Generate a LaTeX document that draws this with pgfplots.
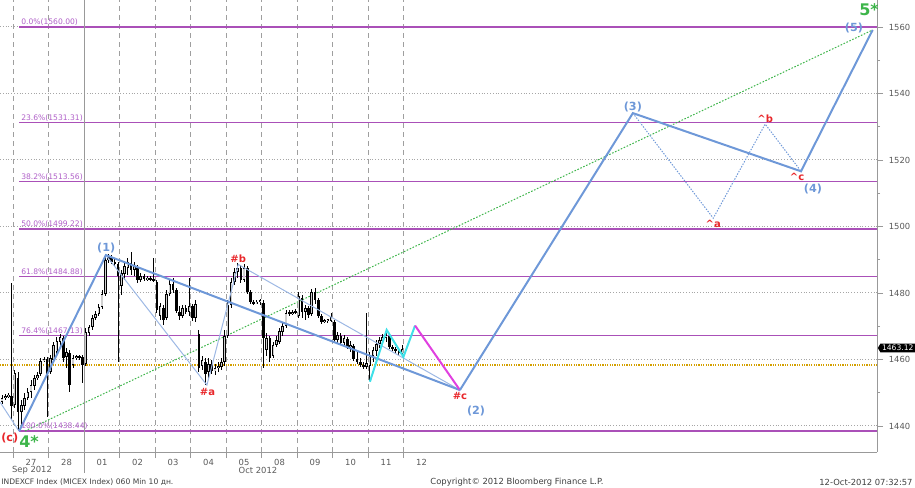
\documentclass[border=0pt]{standalone}
\usepackage{pgfplots}
\pgfplotsset{compat=1.18}
\usepackage{pgfplotstable}
\usepackage{fontspec}
\setmainfont{DejaVu Sans}
\usetikzlibrary{shapes.symbols}

\definecolor{wave}{HTML}{6E98D8}
\definecolor{wavethin}{HTML}{9DB8E4}
\definecolor{ewred}{HTML}{E8262A}
\definecolor{ewgreen}{HTML}{3DB54A}
\definecolor{ewcyan}{HTML}{3FE0E8}
\definecolor{ewmag}{HTML}{E040E0}
\definecolor{fibline}{HTML}{AA50B8}
\definecolor{fibtext}{HTML}{B060C8}
\definecolor{gold}{HTML}{D4A000}
\definecolor{upbody}{HTML}{CFCFCF}

\newcommand\sm{\fontsize{3.8}{4.6}\selectfont}
\newcommand\tk{\fontsize{4.2}{5}\selectfont}

% hourly candles, x = bar number (11 bars a day, 27 Sep = bars 0..10)
\pgfplotstableread{
n o h l c
-4 1447.2 1449.3 1446.6 1448.4
-3 1448.4 1449.6 1447.8 1449.0
-2 1449.0 1449.9 1448.4 1449.3
-1 1449.0 1483.0 1441.8 1446.0
0 1446.3 1456.8 1445.4 1455.9
1 1454.4 1456.2 1438.4 1444.2
2 1444.2 1447.8 1440.3 1446.3
3 1446.0 1449.9 1444.8 1448.4
4 1448.4 1451.4 1447.8 1450.2
5 1450.2 1453.8 1448.4 1452.3
6 1452.0 1455.3 1450.8 1454.4
7 1454.4 1456.2 1453.8 1455.3
8 1455.6 1460.5 1455.0 1459.6
9 1459.6 1460.8 1459.3 1460.2
10 1460.2 1460.8 1442.7 1455.3
11 1456.2 1461.4 1455.6 1460.5
12 1459.9 1465.3 1459.3 1464.4
13 1462.3 1466.8 1461.1 1465.6
14 1465.3 1467.7 1463.5 1466.8
15 1466.5 1467.1 1459.3 1460.5
16 1460.8 1463.5 1457.4 1462.3
17 1462.0 1462.9 1450.2 1452.3
18 1458.4 1461.4 1457.4 1460.5
19 1460.5 1461.4 1459.9 1460.8
20 1460.8 1461.4 1459.9 1460.6
21 1460.8 1461.4 1452.9 1458.4
22 1458.7 1469.5 1458.1 1468.3
23 1468.0 1470.4 1467.1 1469.8
24 1469.8 1473.4 1468.9 1472.5
25 1472.5 1474.6 1471.9 1473.7
26 1473.7 1476.7 1473.1 1475.8
27 1475.8 1480.9 1475.2 1479.7
28 1479.7 1491.1 1479.1 1489.9
29 1489.9 1491.7 1489.0 1490.8
30 1490.8 1491.4 1488.7 1489.3
31 1489.3 1490.2 1488.1 1488.7
32 1488.7 1489.3 1459.3 1485.1
33 1482.1 1486.9 1479.4 1486.0
34 1485.7 1489.3 1483.9 1488.1
35 1487.5 1490.5 1485.4 1489.3
36 1489.0 1492.3 1485.4 1486.9
37 1486.9 1489.3 1485.1 1488.1
38 1487.5 1488.4 1483.0 1483.9
39 1483.9 1486.0 1483.3 1485.1
40 1485.1 1485.7 1483.6 1484.2
41 1484.2 1485.1 1483.6 1484.5
42 1484.5 1485.1 1483.6 1484.2
43 1484.2 1490.5 1483.3 1483.9
44 1483.3 1483.9 1474.0 1474.9
45 1473.1 1477.0 1471.9 1476.1
46 1475.5 1476.4 1470.4 1471.9
47 1472.5 1480.9 1471.9 1479.7
48 1479.7 1483.9 1479.1 1482.7
49 1482.7 1484.5 1480.0 1480.9
50 1480.9 1481.5 1474.0 1474.6
51 1474.3 1476.1 1471.9 1473.1
52 1473.1 1476.4 1472.5 1475.5
53 1475.5 1476.4 1473.7 1474.3
54 1474.3 1484.5 1473.1 1476.1
55 1476.1 1476.7 1471.6 1472.5
56 1472.5 1477.9 1471.3 1476.7
57 1467.7 1468.9 1456.2 1457.4
58 1458.1 1461.1 1456.8 1459.9
59 1459.3 1460.5 1452.3 1455.6
60 1456.2 1460.5 1454.4 1458.7
61 1458.7 1459.9 1455.6 1456.5
62 1456.5 1458.7 1455.3 1457.4
63 1457.4 1459.3 1456.2 1458.1
64 1457.7 1460.5 1456.8 1459.3
65 1459.3 1468.9 1458.1 1467.1
66 1467.1 1477.9 1466.5 1476.4
67 1476.4 1484.5 1475.5 1483.3
68 1483.3 1487.5 1482.4 1486.3
69 1486.3 1489.0 1484.5 1487.5
70 1487.5 1488.4 1483.0 1483.9
71 1483.9 1488.7 1483.3 1487.5
72 1487.5 1488.1 1479.7 1480.3
73 1480.3 1480.9 1476.7 1477.3
74 1477.3 1477.9 1476.4 1477.0
75 1477.0 1477.9 1476.7 1477.3
76 1477.3 1478.2 1476.4 1477.6
77 1477.0 1477.9 1457.4 1466.5
78 1462.9 1468.0 1461.1 1466.5
79 1466.5 1467.1 1459.3 1460.5
80 1461.1 1465.3 1460.5 1464.4
81 1464.4 1467.1 1463.8 1465.9
82 1465.3 1469.5 1464.7 1468.6
83 1468.3 1471.0 1467.1 1470.1
84 1470.1 1474.9 1469.5 1474.0
85 1474.0 1474.9 1473.1 1473.7
86 1473.7 1474.9 1473.4 1474.3
87 1474.3 1475.2 1473.7 1474.0
88 1473.1 1480.3 1472.5 1479.1
89 1478.5 1479.4 1472.5 1474.3
90 1474.3 1476.4 1471.9 1475.5
91 1475.5 1476.1 1472.5 1473.4
92 1473.7 1481.2 1473.1 1480.3
93 1480.3 1481.5 1476.7 1477.9
94 1477.9 1478.5 1472.5 1473.1
95 1473.1 1473.7 1470.7 1471.3
96 1471.3 1472.2 1471.0 1471.6
97 1471.6 1472.2 1471.0 1471.9
98 1471.6 1474.0 1471.3 1472.8
99 1471.3 1471.9 1465.3 1465.9
100 1465.9 1468.3 1464.7 1467.4
101 1467.1 1468.0 1464.4 1465.0
102 1465.0 1467.4 1464.1 1466.5
103 1466.2 1466.8 1463.2 1463.8
104 1463.8 1465.6 1462.3 1464.4
105 1464.1 1464.7 1459.6 1460.2
106 1460.2 1462.3 1458.7 1459.3
107 1459.3 1460.5 1457.7 1458.4
108 1458.4 1459.3 1457.1 1457.7
109 1457.7 1474.0 1457.1 1459.0
110 1458.1 1462.3 1453.5 1461.1
111 1461.1 1463.8 1459.3 1462.9
112 1462.6 1465.9 1461.1 1464.7
113 1464.7 1466.8 1463.5 1465.9
114 1465.6 1467.7 1464.4 1466.8
115 1466.5 1468.6 1465.3 1467.4
116 1467.1 1467.7 1463.2 1463.8
117 1463.8 1464.4 1462.6 1463.2
118 1463.2 1463.8 1462.0 1462.6
119 1462.6 1463.2 1461.4 1462.0
120 1461.7 1464.4 1460.5 1463.12
}\candles

\begin{document}
\begin{tikzpicture}
\path[use as bounding box] (0,-17.5pt) rectangle (457.5pt,226pt);
\begin{axis}[
  at={(0,0)}, anchor=south west,
  scale only axis, width=438.5pt, height=226pt,
  xmin=-4.62, xmax=267.15, ymin=1432.18, ymax=1568.12,
  axis x line=bottom, axis y line=right,
  axis line style={-, draw=gray!80, line width=0.5pt},
  tick align=outside,
  xtick={-0.5,10.5,32.5,43.5,54.5,65.5,76.5,87.5,98.5,109.5,120.5},
  xticklabels={},
  extra x ticks={5,16,27,38,49,60,71,82,93,104,115,126},
  extra x tick labels={27,28,01,02,03,04,05,08,09,10,11,12},
  extra x tick style={grid=none, major tick length=0pt},
  ytick={1440,1460,...,1560},
  minor ytick={1450,1470,...,1550},
  major tick length=3pt, minor tick length=1.5pt,
  tick style={gray!80, line width=0.4pt},
  xmajorgrids, ymajorgrids,
  x grid style={gray!75, dash pattern=on 2.5pt off 2pt, line width=0.4pt},
  y grid style={gray!70, dash pattern=on 0.5pt off 0.9pt, line width=0.5pt},
  ticklabel style={font=\tk, text=black!65},
  /pgf/number format/assume math mode=true,
  /pgf/number format/1000 sep={},
  yticklabel style={/pgf/number format/fixed, xshift=-0.6pt},
  clip=true,
]
% Fibonacci levels from the (c) low
\addplot[fibline, line width=0.7pt] coordinates {(1.3,1560.00) (267.15,1560.00)};
\addplot[fibline, line width=0.7pt] coordinates {(1.3,1531.31) (267.15,1531.31)};
\addplot[fibline, line width=0.7pt] coordinates {(1.3,1513.56) (267.15,1513.56)};
\addplot[fibline, line width=0.7pt] coordinates {(1.3,1499.22) (267.15,1499.22)};
\addplot[fibline, line width=0.7pt] coordinates {(1.3,1484.88) (267.15,1484.88)};
\addplot[fibline, line width=0.7pt] coordinates {(1.3,1467.13) (267.15,1467.13)};
\addplot[fibline, line width=0.7pt] coordinates {(1.3,1438.44) (267.15,1438.44)};
\addplot[gold, line width=0.6pt, dash pattern=on 0.6pt off 0.6pt] coordinates {(-4.62,1458.35) (267.15,1458.35)};
\addplot[ewgreen, line width=0.5pt, dash pattern=on 0.8pt off 0.8pt] coordinates {(3.1,1438.5) (265.8,1559.1)};

% candles: wicks, bodies, light fill for rising bars
\addplot[draw=none, mark=none, forget plot, error bars/.cd, y dir=both, y explicit, error mark=none,
  error bar style={draw=black, line width=0.45pt}]
  table[x=n, y expr={(\thisrow{h}+\thisrow{l})/2}, y error expr={(\thisrow{h}-\thisrow{l})/2}] {\candles};
\addplot[draw=none, mark=none, forget plot, error bars/.cd, y dir=both, y explicit, error mark=none,
  error bar style={draw=black, line width=1.3pt}]
  table[x=n, y expr={(\thisrow{o}+\thisrow{c})/2}, y error expr={max(abs(\thisrow{c}-\thisrow{o})/2,0.3)}] {\candles};
\addplot[draw=none, mark=none, forget plot, error bars/.cd, y dir=both, y explicit, error mark=none,
  error bar style={draw=upbody, line width=0.55pt}]
  table[x=n, y expr={(\thisrow{c}>\thisrow{o}) ? ((\thisrow{o}+\thisrow{c})/2) : nan},
        y error expr={max(abs(\thisrow{c}-\thisrow{o})/2-0.35,0.05)}] {\candles};

% wave count
\addplot[wavethin, line width=0.5pt] coordinates {(-4.62,1447.2) (1.3,1438.44)};
\addplot[wavethin, line width=0.5pt] coordinates {(28.2,1491.4) (59.5,1452.3) (69.2,1488.6) (137.9,1450.8)};
\addplot[wave, line width=1pt] coordinates {(1.3,1438.44) (28.2,1491.4) (137.9,1450.8)};
\addplot[ewcyan, line width=1pt] coordinates {(110.0,1453.3) (115.2,1468.9) (120.4,1460.8) (124.0,1470.2)};
\addplot[ewmag, line width=1pt] coordinates {(124.0,1470.2) (137.9,1450.8)};
\addplot[wave, line width=1pt] coordinates {(137.9,1450.8) (191.5,1534.1) (243.6,1516.6) (265.8,1559.1)};
\addplot[wave, line width=0.5pt, dash pattern=on 0.7pt off 0.7pt] coordinates {(191.5,1534.1) (216.4,1502.5) (232.5,1530.8) (243.3,1517.0)};

% level labels
\node[font=\sm, text=fibtext, anchor=south west, inner sep=0.4pt] at (axis cs:1.6,1560.00) {0.0\%(1560.00)};
\node[font=\sm, text=fibtext, anchor=south west, inner sep=0.4pt] at (axis cs:1.6,1531.31) {23.6\%(1531.31)};
\node[font=\sm, text=fibtext, anchor=south west, inner sep=0.4pt] at (axis cs:1.6,1513.56) {38.2\%(1513.56)};
\node[font=\sm, text=fibtext, anchor=south west, inner sep=0.4pt] at (axis cs:1.6,1499.22) {50.0\%(1499.22)};
\node[font=\sm, text=fibtext, anchor=south west, inner sep=0.4pt] at (axis cs:1.6,1484.88) {61.8\%(1484.88)};
\node[font=\sm, text=fibtext, anchor=south west, inner sep=0.4pt] at (axis cs:1.6,1467.13) {76.4\%(1467.13)};
\node[font=\sm, text=fibtext, anchor=south west, inner sep=0.4pt] at (axis cs:1.6,1438.44) {100.0\%(1438.44)};

% wave labels
\node[font=\fontsize{5.6}{6}\selectfont\bfseries, text=wave, anchor=south, inner sep=0.8pt] at (axis cs:28.3,1491.4) {(1)};
\node[font=\fontsize{5.6}{6}\selectfont\bfseries, text=wave] at (axis cs:142.9,1444.5) {(2)};
\node[font=\fontsize{5.6}{6}\selectfont\bfseries, text=wave, anchor=south, inner sep=0.5pt] at (axis cs:191.5,1534.1) {(3)};
\node[font=\fontsize{5.6}{6}\selectfont\bfseries, text=wave] at (axis cs:247.3,1511.3) {(4)};
\node[font=\fontsize{5.6}{6}\selectfont\bfseries, text=wave] at (axis cs:260.0,1559.6) {(5)};
\node[font=\fontsize{5}{6}\selectfont\bfseries, text=ewred, anchor=north, inner sep=0.8pt] at (axis cs:59.7,1452.0) {\#a};
\node[font=\fontsize{5}{6}\selectfont\bfseries, text=ewred, anchor=south, inner sep=0.8pt] at (axis cs:69.2,1488.6) {\#b};
\node[font=\fontsize{5}{6}\selectfont\bfseries, text=ewred, anchor=north, inner sep=0.8pt] at (axis cs:137.9,1450.6) {\#c};
\node[font=\fontsize{5}{6}\selectfont\bfseries, text=ewred, anchor=north, inner sep=0.5pt] at (axis cs:216.4,1502.3) {\textasciicircum a};
\node[font=\fontsize{5}{6}\selectfont\bfseries, text=ewred, anchor=south, inner sep=0.5pt] at (axis cs:232.5,1530.8) {\textasciicircum b};
\node[font=\fontsize{5}{6}\selectfont\bfseries, text=ewred] at (axis cs:242.4,1514.9) {\textasciicircum c};
\node[font=\fontsize{5.6}{6}\selectfont\bfseries, text=ewred] at (axis cs:-1.6,1436.4) {(c)};
\node[font=\fontsize{8}{9}\selectfont\bfseries, text=ewgreen] at (axis cs:4.4,1435.3) {4*};
\node[font=\fontsize{8}{9}\selectfont\bfseries, text=ewgreen] at (axis cs:264.7,1565.2) {5*};
\end{axis}

% month divider, month names, last price tag and footer
\begin{scope}[x=1pt, y=1pt]
\draw[gray!80, line width=0.5pt] (42.15,226) -- (42.15,-10.5);
\node[font=\tk, text=black!65] at (16,-9) {Sep 2012};
\node[font=\tk, text=black!65] at (129,-9) {Oct 2012};
\node[signal, signal to=west, signal pointer angle=120, fill=black, text=white, font=\sm,
  inner sep=0.8pt, anchor=west] at (438.7,52) {1463.12};
\node[font=\sm, text=black!75, anchor=west, inner sep=0pt] at (0.5,-15) {INDEXCF Index (MICEX Index) 060 Min 10 дн.};
\node[font=\tk, text=black!75, inner sep=0pt] at (258.5,-15) {Copyright© 2012 Bloomberg Finance L.P.};
\node[font=\tk, text=black!75, anchor=east, inner sep=0pt] at (456.5,-15) {12-Oct-2012 07:32:57};
\end{scope}
\end{tikzpicture}
\end{document}
